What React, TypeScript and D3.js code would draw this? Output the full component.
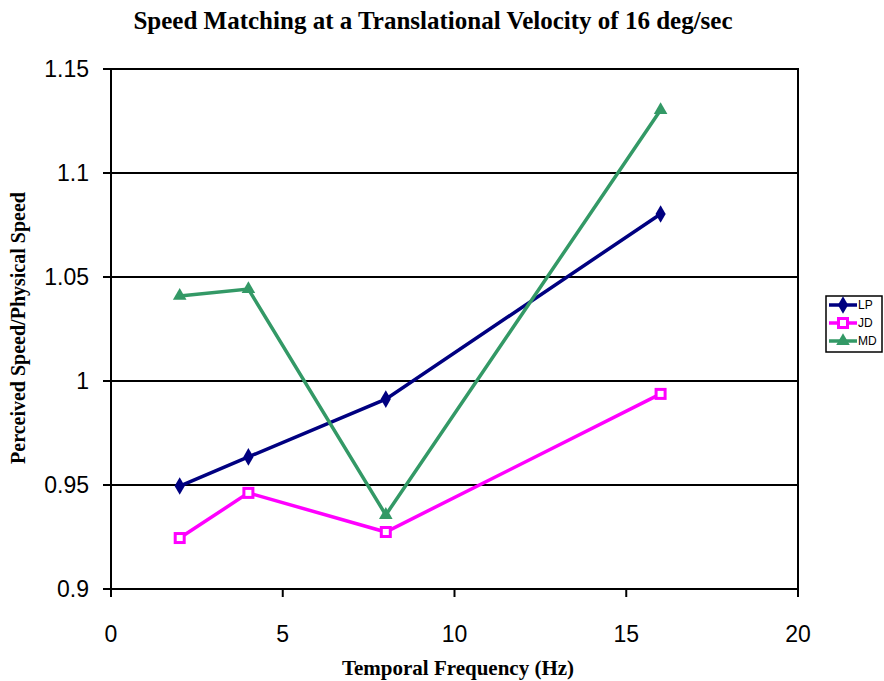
import React from 'react';
import * as d3 from 'd3';

const freqs = [2, 4, 8, 16];
const lpValues = [0.9495, 0.9635, 0.9913, 1.0803];
const jdValues = [0.9245, 0.9462, 0.9274, 0.9938];
const mdValues = [1.0409, 1.0442, 0.9356, 1.1303];
const xTicks = [0, 5, 10, 15, 20];
const yTicks = [0.9, 0.95, 1, 1.05, 1.1, 1.15];

const series = [
  { name: 'LP', values: lpValues, color: '#000080', marker: 'diamond' },
  { name: 'JD', values: jdValues, color: '#FF00FF', marker: 'square' },
  { name: 'MD', values: mdValues, color: '#339966', marker: 'triangle' },
];

const margin = { left: 111, right: 798, top: 69, bottom: 589 };

function Marker({ type, x, y, color }: { type: string; x: number; y: number; color: string }) {
  if (type === 'diamond') {
    const p = d3.symbol(d3.symbolDiamond, 90)();
    return <path d={p || ''} transform={`translate(${x},${y})`} fill={color} />;
  }
  if (type === 'square') {
    return <rect x={x - 4.5} y={y - 4.5} width={9} height={9} fill="#fff" stroke={color} strokeWidth={3} />;
  }
  const p = d3.symbol(d3.symbolTriangle, 80)();
  return <path d={p || ''} transform={`translate(${x},${y})`} fill={color} />;
}

export default function App() {
  const x = d3.scaleLinear().domain([0, 20]).range([margin.left, margin.right]);
  const y = d3.scaleLinear().domain([0.9, 1.15]).range([margin.bottom, margin.top]);
  const line = d3.line<[number, number]>().x(d => x(d[0])).y(d => y(d[1]));

  return (
    <svg width={884} height={681} style={{ position: 'absolute', left: 0, top: 0 }}>
      <rect width={884} height={681} fill="#fff" />
      <text x={433} y={29} textAnchor="middle" fontFamily="Liberation Serif" fontWeight="bold" fontSize={25}>
        Speed Matching at a Translational Velocity of 16 deg/sec
      </text>
      {yTicks.map(t => (
        <g key={t}>
          <line x1={margin.left} x2={margin.right} y1={y(t)} y2={y(t)} stroke="#000" strokeWidth={2} />
          <line x1={margin.left - 8} x2={margin.left} y1={y(t)} y2={y(t)} stroke="#000" strokeWidth={2} />
          <text x={89} y={y(t) + 8} textAnchor="end" fontFamily="Liberation Sans" fontSize={23}>
            {t === 1 ? '1' : String(t)}
          </text>
        </g>
      ))}
      {xTicks.map(t => (
        <g key={t}>
          <line x1={x(t)} x2={x(t)} y1={margin.bottom} y2={margin.bottom + 8} stroke="#000" strokeWidth={2} />
          <text x={x(t)} y={642} textAnchor="middle" fontFamily="Liberation Sans" fontSize={23}>
            {t}
          </text>
        </g>
      ))}
      <rect x={margin.left} y={margin.top} width={margin.right - margin.left} height={margin.bottom - margin.top}
        fill="none" stroke="#000" strokeWidth={2} />
      {series.map(s => {
        const pts = freqs.map((f, i) => [f, s.values[i]] as [number, number]);
        return (
          <g key={s.name}>
            <path d={line(pts) || ''} fill="none" stroke={s.color} strokeWidth={3.5} />
            {pts.map((p, i) => (
              <Marker key={i} type={s.marker} x={x(p[0])} y={y(p[1])} color={s.color} />
            ))}
          </g>
        );
      })}
      <text x={458} y={675} textAnchor="middle" fontFamily="Liberation Serif" fontWeight="bold" fontSize={21}>
        Temporal Frequency (Hz)
      </text>
      <text transform="translate(25,328) rotate(-90)" textAnchor="middle"
        fontFamily="Liberation Serif" fontWeight="bold" fontSize={20}>
        Perceived Speed/Physical Speed
      </text>
      <rect x={826} y={296} width={56} height={56} fill="#fff" stroke="#000" strokeWidth={1.5} />
      {series.map((s, i) => {
        const ly = 305 + i * 18;
        return (
          <g key={s.name}>
            <line x1={829} x2={857} y1={ly} y2={ly} stroke={s.color} strokeWidth={3.5} />
            <Marker type={s.marker} x={843} y={ly} color={s.color} />
            <text x={858} y={ly + 4} fontFamily="Liberation Sans" fontSize={12}>{s.name}</text>
          </g>
        );
      })}
    </svg>
  );
}
